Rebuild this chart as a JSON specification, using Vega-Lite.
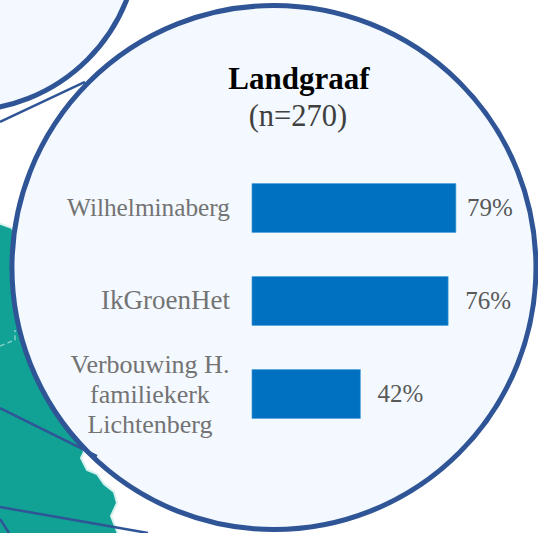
{
"$schema":"https://vega.github.io/schema/vega-lite/v6.json",
"width":538,"height":533,"padding":0,"autosize":{"type":"none"},
"background":"#ffffff",
"view":{"stroke":null},
"datasets":{
"bars":[{"name":"Wilhelminaberg","rank":1,"pct":79},{"name":"IkGroenHet","rank":2,"pct":76},{"name":"Verbouwing H.\nfamiliekerk\nLichtenberg","rank":3,"pct":42}],
"coast":[{"my":1.151,"mx":-105,"m0":-105},{"my":1.17,"mx":-97.6,"m0":-105},{"my":1.215,"mx":-92.95,"m0":-105},{"my":1.989,"mx":-82.11,"m0":-105},{"my":3.065,"mx":-70.49,"m0":-105},{"my":3.624,"mx":-65.07,"m0":-105},{"my":3.688,"mx":-66.23,"m0":-105},{"my":3.753,"mx":-65.07,"m0":-105},{"my":3.817,"mx":-63.9,"m0":-105},{"my":3.86,"mx":-60.03,"m0":-105},{"my":3.968,"mx":-57.32,"m0":-105},{"my":4.054,"mx":-53.45,"m0":-105},{"my":4.172,"mx":-52.28,"m0":-105},{"my":4.312,"mx":-54.61,"m0":-105},{"my":4.6,"mx":-50.5,"m0":-105}],
"links":[{"id":"a","lx":-97.6,"ly":0.075},{"id":"a","lx":-64.68,"ly":-0.355},{"id":"b","lx":-97.6,"ly":3.151},{"id":"b","lx":-60.03,"ly":3.667},{"id":"c","lx":-97.6,"ly":4.215},{"id":"c","lx":-40.28,"ly":4.495},{"id":"d","lx":-97.6,"ly":4.344},{"id":"d","lx":-94.11,"ly":4.495}],
"border":[{"lx":-97.6,"ly":2.484},{"lx":-91.79,"ly":2.419},{"lx":-91.79,"ly":2.312}]
},
"layer":[
{"data":{"name":"coast"},"mark":{"type":"area","orient":"horizontal","color":"#12a195","stroke":"#d5f1ed","strokeWidth":2},
 "encoding":{"y":{"field":"my","type":"quantitative","scale":{"domain":[-1.2366,4.4946],"range":[0,533],"nice":false,"zero":false,"padding":0},"axis":null},"x":{"field":"mx","type":"quantitative","scale":{"domain":[-97.6,110.8],"range":[0,538],"nice":false,"zero":false,"padding":0},"axis":null},"x2":{"field":"m0"}}},
{"data":{"name":"border"},"mark":{"type":"line","color":"#7fd0c8","strokeWidth":1.5,"strokeDash":[5,3]},
 "encoding":{"x":{"field":"lx","type":"quantitative"},"y":{"field":"ly","type":"quantitative"}}},
{"data":{"values":[{"cx":-111.5,"cy":-1.925}]},"mark":{"type":"point","shape":"circle","filled":false,"fill":"#f3f9ff","fillOpacity":1,"stroke":"#2f5597","strokeWidth":5,"opacity":1,"size":121900},
 "encoding":{"x":{"field":"cx","type":"quantitative"},"y":{"field":"cy","type":"quantitative"}}},
{"data":{"values":[{"cx":8.52,"cy":1.64}]},"mark":{"type":"point","shape":"circle","filled":false,"fill":"#f3f9ff","fillOpacity":1,"stroke":"#2f5597","strokeWidth":5,"opacity":1,"size":274576},
 "encoding":{"x":{"field":"cx","type":"quantitative"},"y":{"field":"cy","type":"quantitative"}}},
{"data":{"name":"links"},"mark":{"type":"line","color":"#2f5597","strokeWidth":2.5},
 "encoding":{"detail":{"field":"id","type":"nominal"},"x":{"field":"lx","type":"quantitative"},"y":{"field":"ly","type":"quantitative"}}},
{"data":{"values":[{"t":"Landgraaf","tx":18.2,"ty":-0.375}]},"mark":{"type":"text","font":"Liberation Serif","fontWeight":"bold","fontSize":31,"color":"#000000","baseline":"middle"},
 "encoding":{"text":{"field":"t","type":"nominal"},"x":{"field":"tx","type":"quantitative"},"y":{"field":"ty","type":"quantitative"}}},
{"data":{"values":[{"t":"(n=270)","tx":17.8,"ty":0.022}]},"mark":{"type":"text","font":"Liberation Serif","fontSize":30.5,"color":"#404040","baseline":"middle"},
 "encoding":{"text":{"field":"t","type":"nominal"},"x":{"field":"tx","type":"quantitative"},"y":{"field":"ty","type":"quantitative"}}},
{"data":{"name":"bars"},"mark":{"type":"bar","orient":"horizontal","color":"#0070c0","stroke":"#4ea3dc","strokeWidth":0.6,"size":49},
  "encoding":{"y":{"field":"rank","type":"quantitative"},"x":{"field":"pct","type":"quantitative"}}},
{"data":{"name":"bars"},"transform":[{"filter":"datum.pct==79"},{"calculate":"datum.pct+'%'","as":"lab"}],"mark":{"type":"text","align":"left","baseline":"middle","dx":11,"font":"Liberation Serif","fontSize":25,"color":"#595959"},
  "encoding":{"y":{"field":"rank","type":"quantitative"},"x":{"field":"pct","type":"quantitative"},"text":{"field":"lab","type":"nominal"}}},
{"data":{"name":"bars"},"transform":[{"filter":"datum.pct!=79"},{"calculate":"datum.pct+'%'","as":"lab"}],"mark":{"type":"text","align":"left","baseline":"middle","dx":17,"font":"Liberation Serif","fontSize":25,"color":"#595959"},
  "encoding":{"y":{"field":"rank","type":"quantitative"},"x":{"field":"pct","type":"quantitative"},"text":{"field":"lab","type":"nominal"}}},
{"data":{"name":"bars"},"transform":[{"filter":"datum.rank==1"}],"mark":{"type":"text","align":"right","baseline":"middle","font":"Liberation Serif","fontSize":25.3,"color":"#737373","dx":-22},
  "encoding":{"y":{"field":"rank","type":"quantitative"},"x":{"datum":0,"type":"quantitative"},"text":{"field":"name","type":"nominal"}}},
{"data":{"name":"bars"},"transform":[{"filter":"datum.rank==2"}],"mark":{"type":"text","align":"right","baseline":"middle","font":"Liberation Serif","fontSize":27,"color":"#737373","dx":-22},
  "encoding":{"y":{"field":"rank","type":"quantitative"},"x":{"datum":0,"type":"quantitative"},"text":{"field":"name","type":"nominal"}}},
{"data":{"name":"bars"},"transform":[{"filter":"datum.rank==3"}],"mark":{"type":"text","align":"center","baseline":"middle","font":"Liberation Serif","fontSize":26,"color":"#737373","lineBreak":"\n","lineHeight":30,"dx":-102,"dy":-29},
  "encoding":{"y":{"field":"rank","type":"quantitative"},"x":{"datum":0,"type":"quantitative"},"text":{"field":"name","type":"nominal"}}}
]
}
